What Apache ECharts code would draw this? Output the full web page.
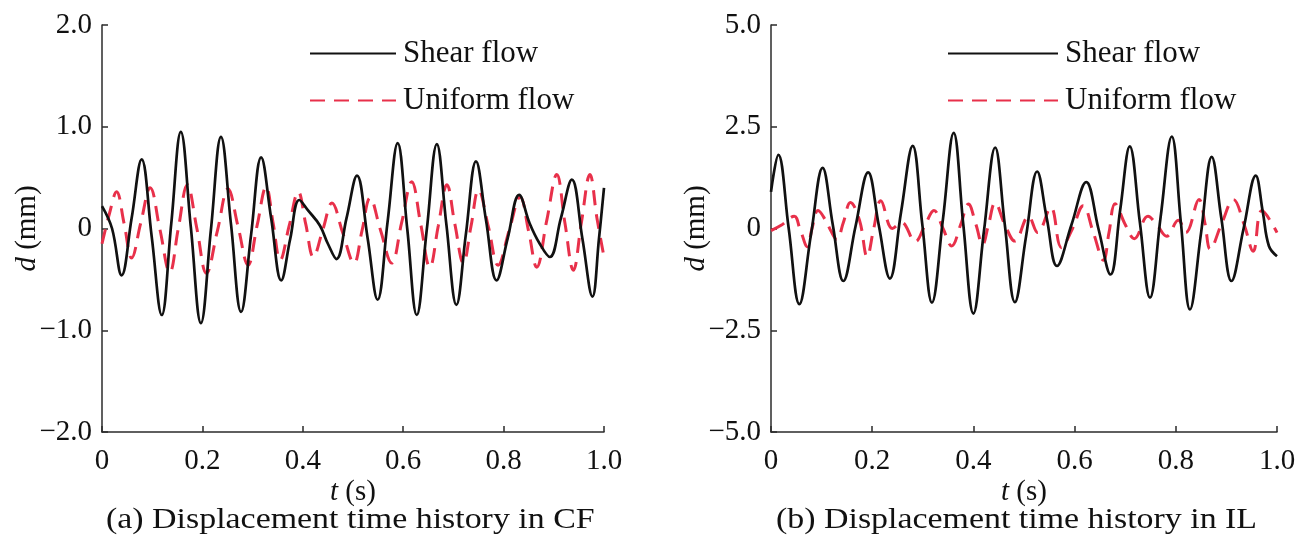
<!DOCTYPE html>
<html>
<head>
<meta charset="utf-8">
<script src="https://cdn.jsdelivr.net/npm/echarts@6/dist/echarts.min.js"></script>
<style>html,body{margin:0;padding:0;background:#fff}#c{width:1302px;height:560px}</style>
</head>
<body>
<div id="c"></div>
<script>
// ---- data ----
const seriesNames = ['Shear flow', 'Uniform flow'];
const captions = ['(a) Displacement time history in CF', '(b) Displacement time history in IL'];
const xTicks = [0, 0.2, 0.4, 0.6, 0.8, 1.0];
const cfTicks = [-2, -1, 0, 1, 2];
const ilTicks = [-5, -2.5, 0, 2.5, 5];

// (a) CF, shear flow [t (s), d (mm)]
const cfShear = [
  [0,0.22],[0.02,0.0],[0.039,-0.46],[0.059,0.1],[0.079,0.68],[0.099,-0.08],[0.119,-0.85],
  [0.138,0.05],[0.157,0.95],[0.177,0.01],[0.197,-0.93],[0.217,-0.01],[0.237,0.90],
  [0.257,0.04],[0.277,-0.82],[0.297,-0.06],[0.317,0.70],[0.337,0.1],[0.357,-0.51],
  [0.375,-0.1],[0.393,0.28],[0.41,0.18],[0.434,0.03],[0.45,-0.15],[0.467,-0.30],
  [0.487,0.1],[0.508,0.52],[0.529,-0.09],[0.549,-0.70],[0.569,0.07],[0.589,0.84],
  [0.608,0.0],[0.627,-0.85],[0.647,-0.01],[0.667,0.83],[0.686,0.04],[0.706,-0.75],
  [0.725,-0.05],[0.745,0.66],[0.765,0.08],[0.786,-0.51],[0.808,-0.1],[0.831,0.33],
  [0.852,0.05],[0.872,-0.15],[0.892,-0.28],[0.914,0.1],[0.936,0.48],[0.957,-0.1],
  [0.977,-0.67],[0.99,-0.1],[1.0,0.40]
];
// (a) CF, uniform flow
const cfUniform = [
  [0,-0.15],[0.015,0.15],[0.029,0.36],[0.044,0.05],[0.059,-0.29],[0.077,0.05],[0.096,0.40],
  [0.115,0.0],[0.135,-0.43],[0.152,0.0],[0.170,0.43],[0.189,0.0],[0.208,-0.44],[0.23,-0.02],
  [0.251,0.39],[0.271,0.02],[0.291,-0.36],[0.309,0.03],[0.327,0.41],[0.341,0.05],[0.355,-0.31],
  [0.373,0.03],[0.391,0.36],[0.406,0.04],[0.421,-0.28],[0.44,-0.01],[0.458,0.25],[0.48,-0.05],
  [0.502,-0.34],[0.518,-0.02],[0.534,0.30],[0.555,-0.02],[0.577,-0.34],[0.597,0.06],[0.617,0.46],
  [0.635,0.04],[0.653,-0.38],[0.67,0.03],[0.687,0.43],[0.703,0.04],[0.720,-0.34],[0.735,0.02],
  [0.750,0.38],[0.77,0.01],[0.789,-0.36],[0.811,-0.02],[0.833,0.31],[0.85,-0.03],[0.866,-0.38],
  [0.886,0.08],[0.906,0.53],[0.922,0.06],[0.939,-0.41],[0.955,0.06],[0.972,0.53],[0.986,0.1],
  [1.0,-0.28]
];
// (b) IL, shear flow
const ilShear = [
  [0,0.9],[0.0145,1.81],[0.035,0.0],[0.056,-1.86],[0.079,-0.15],[0.102,1.49],[0.122,0.1],
  [0.143,-1.29],[0.167,0.05],[0.192,1.38],[0.213,0.08],[0.235,-1.23],[0.257,0.4],[0.280,2.03],
  [0.299,0.1],[0.318,-1.82],[0.34,0.25],[0.361,2.35],[0.38,0.1],[0.400,-2.09],[0.421,-0.05],
  [0.443,1.99],[0.462,0.1],[0.482,-1.81],[0.504,-0.2],[0.526,1.40],[0.545,0.25],[0.565,-0.92],
  [0.594,0.1],[0.623,1.14],[0.647,0.0],[0.671,-1.13],[0.69,0.45],[0.709,2.02],[0.729,0.15],
  [0.749,-1.70],[0.77,0.28],[0.792,2.26],[0.81,0.15],[0.828,-1.99],[0.85,-0.1],[0.871,1.76],
  [0.89,0.25],[0.910,-1.29],[0.934,0.0],[0.958,1.30],[0.972,0.4],[0.984,-0.43],[1.0,-0.68]
];
// (b) IL, uniform flow
const ilUniform = [
  [0,-0.05],[0.02,0.08],[0.046,0.30],[0.057,0.0],[0.072,-0.45],[0.081,0.0],[0.093,0.44],
  [0.108,0.2],[0.118,-0.05],[0.130,-0.27],[0.143,0.15],[0.157,0.64],[0.175,0.2],[0.190,-0.69],
  [0.203,0.0],[0.217,0.68],[0.24,0.0],[0.258,0.15],[0.285,-0.32],[0.305,0.1],[0.322,0.44],
  [0.34,0.0],[0.357,-0.43],[0.375,0.1],[0.390,0.60],[0.405,0.1],[0.418,-0.40],[0.43,0.1],
  [0.443,0.63],[0.462,0.1],[0.482,-0.31],[0.509,0.30],[0.527,-0.1],[0.553,0.52],[0.574,-0.47],
  [0.596,0.0],[0.617,0.56],[0.637,-0.1],[0.657,-0.78],[0.668,-0.1],[0.680,0.61],[0.70,0.1],
  [0.718,-0.25],[0.745,0.30],[0.762,0.1],[0.782,-0.19],[0.805,0.2],[0.82,-0.1],[0.846,0.71],
  [0.858,0.1],[0.868,-0.51],[0.89,0.1],[0.914,0.71],[0.935,0.1],[0.953,-0.56],[0.97,0.44],
  [1.0,-0.1]
];

// ---- styling ----
const FONT = '"Liberation Serif", "Times New Roman", serif';
const FS = 29;
const CAP_FS = 30;
const LEG_FS = 31;
const AXIS_COLOR = '#2b2b2b';
const BLACK = '#111111';
const RED = '#e8304a';

function fmtTick(v) {
  if (Math.abs(v) < 1e-9) return '0';
  const s = Math.abs(v).toFixed(1);
  return (v < 0 ? '\u2212' : '') + s;
}

function xAxisCfg(gi) {
  return {
    type: 'value', gridIndex: gi, min: xTicks[0], max: xTicks[xTicks.length - 1], interval: 0.2,
    name: '{i|t} (s)', nameLocation: 'middle', nameGap: 46, nameMoveOverlap: false,
    nameTextStyle: { fontFamily: FONT, fontSize: FS, color: '#111',
      rich: { i: { fontFamily: FONT, fontSize: FS, fontStyle: 'italic', color: '#111' } } },
    axisLine: { show: true, onZero: false, lineStyle: { color: AXIS_COLOR, width: 1.5 } },
    axisTick: { show: true, inside: true, length: 6, lineStyle: { color: AXIS_COLOR, width: 1.5 } },
    axisLabel: { fontFamily: FONT, fontSize: FS, color: '#111', margin: 15, formatter: fmtTick },
    splitLine: { show: false }
  };
}
function yAxisCfg(gi, ticks, interval) {
  return {
    type: 'value', gridIndex: gi, min: ticks[0], max: ticks[ticks.length - 1], interval: interval,
    name: '{i|d} (mm)', nameLocation: 'middle', nameGap: 60, nameMoveOverlap: false,
    nameTextStyle: { fontFamily: FONT, fontSize: FS, color: '#111',
      rich: { i: { fontFamily: FONT, fontSize: FS, fontStyle: 'italic', color: '#111' } } },
    axisLine: { show: true, onZero: false, lineStyle: { color: AXIS_COLOR, width: 1.5 } },
    axisTick: { show: true, inside: true, length: 6, lineStyle: { color: AXIS_COLOR, width: 1.5 } },
    axisLabel: { fontFamily: FONT, fontSize: FS, color: '#111', margin: 10, formatter: fmtTick },
    splitLine: { show: false }
  };
}
function lineSeries(name, data, gi, isDashed) {
  return {
    name: name, type: 'line', xAxisIndex: gi, yAxisIndex: gi, data: data,
    smooth: 0.4, symbol: 'none', showSymbol: false, animation: false,
    itemStyle: { color: isDashed ? RED : BLACK },
    lineStyle: isDashed ? { color: RED, width: 3, type: [15, 9] } : { color: BLACK, width: 2.7 },
    z: isDashed ? 2 : 3
  };
}
function legendCfg(left, itemWidth) {
  return {
    left: left, top: 38, orient: 'vertical', padding: 0,
    itemWidth: itemWidth, itemHeight: 2, itemGap: 16,
    itemStyle: { opacity: 0 },
    data: seriesNames, selectedMode: false,
    textStyle: { fontFamily: FONT, fontSize: LEG_FS, color: '#111', lineHeight: 30, padding: [0, 0, 0, 2] }
  };
}

const chart = echarts.init(document.getElementById('c'), null, { renderer: 'canvas' });
chart.setOption({
  backgroundColor: '#fff',
  animation: false,
  grid: [
    { left: 102, top: 25, width: 502, height: 407 },
    { left: 771, top: 25, width: 506, height: 407 }
  ],
  legend: [legendCfg(309, 86), legendCfg(947, 110)],
  xAxis: [xAxisCfg(0), xAxisCfg(1)],
  yAxis: [yAxisCfg(0, cfTicks, 1), yAxisCfg(1, ilTicks, 2.5)],
  series: [
    lineSeries(seriesNames[1], cfUniform, 0, true),
    lineSeries(seriesNames[0], cfShear, 0, false),
    lineSeries(seriesNames[1], ilUniform, 1, true),
    lineSeries(seriesNames[0], ilShear, 1, false)
  ],
  graphic: [
    { type: 'text', x: 106, y: 505, scaleX: 1.13,
      style: { text: captions[0], font: CAP_FS + 'px ' + FONT, fill: '#111' } },
    { type: 'text', x: 776, y: 505, scaleX: 1.13,
      style: { text: captions[1], font: CAP_FS + 'px ' + FONT, fill: '#111' } }
  ]
});
</script>
</body>
</html>
